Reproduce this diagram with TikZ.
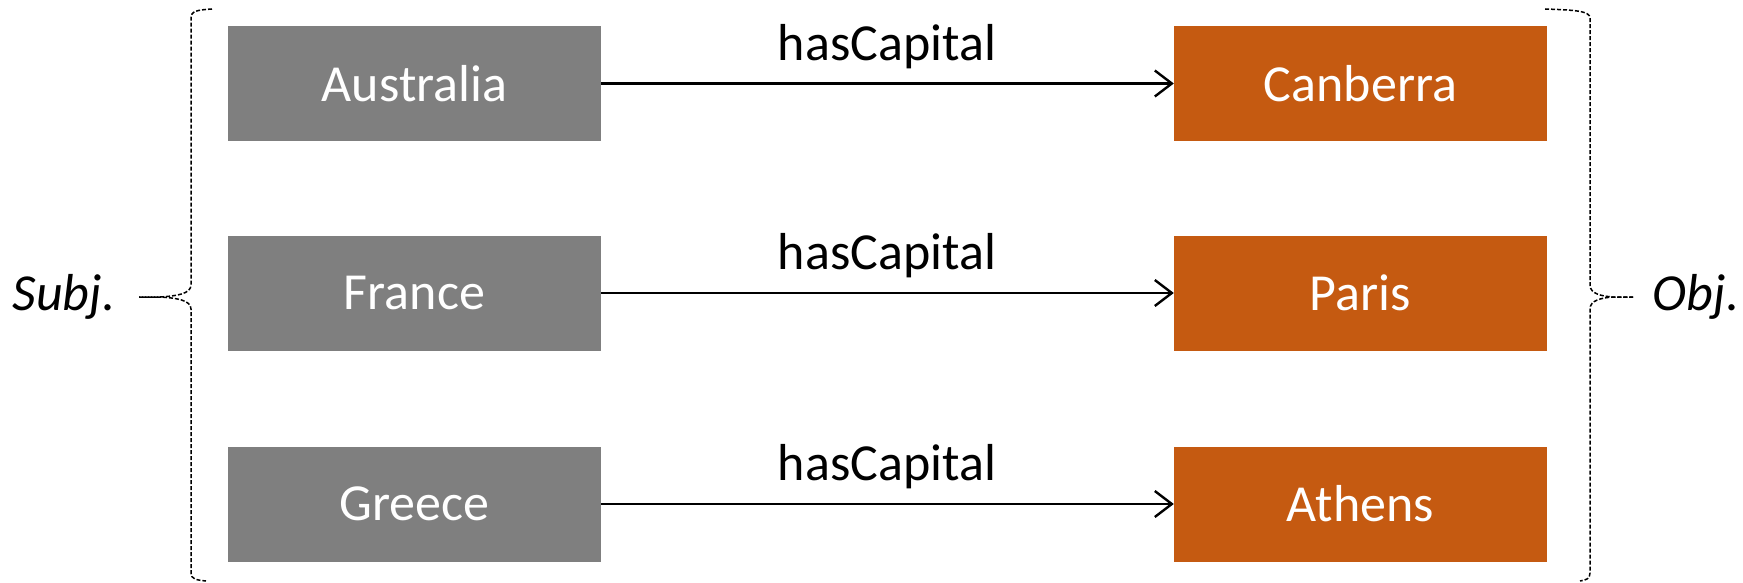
\documentclass[tikz,border=0pt]{standalone}
\usepackage{fontspec}
\setmainfont{Carlito}
\usetikzlibrary{arrows.meta}
\definecolor{subjgray}{HTML}{7F7F7F}
\definecolor{objorange}{HTML}{C55A11}
\begin{document}
\begin{tikzpicture}[x=1pt,y=-1pt,
  bigfont/.style={font=\fontsize{52}{60}\selectfont},
  entity/.style={rectangle, minimum width=373pt, minimum height=115pt, inner sep=0pt, text=white, bigfont},
  subjbox/.style={entity, fill=subjgray},
  objbox/.style={entity, fill=objorange},
  rel/.style={draw=black, line width=2.4pt, -{Straight Barb[length=17pt,width=26pt,line width=2.4pt]}},
  rellabel/.style={bigfont, text=black, inner sep=0pt},
  bracepath/.style={draw=black, line width=1.5pt, dash pattern=on 4pt off 2pt},
  sidelabel/.style={font=\fontsize{52}{60}\selectfont\itshape, inner sep=0pt}]
\useasboundingbox (0,0) rectangle (1743,583);

\node[subjbox] (s1) at (414.5,83.5) {Australia};
\node[subjbox] (s2) at (414.5,293) {France};
\node[subjbox] (s3) at (414.5,504) {Greece};
\node[objbox] (o1) at (1360.5,83.5) {Canberra};
\node[objbox] (o2) at (1360.5,293) {Paris};
\node[objbox] (o3) at (1360.5,504) {Athens};

\draw[rel] (s1) -- (o1);
\draw[rel] (s2) -- (o2);
\draw[rel] (s3) -- (o3);

\node[rellabel] (l1) at (887,47) {hasCapital};
\node[rellabel] (l2) at (887,256) {hasCapital};
\node[rellabel] (l3) at (887,467) {hasCapital};

\node[sidelabel] (subj) at (64,297) {Subj.};
\node[sidelabel] (obj) at (1696,297) {Obj.};

% left brace
\coordinate (lb) at (139,297);
\draw[bracepath] (212,9) .. controls (197,10) and (191,11) .. (191,18) -- (191,285)
  .. controls (191,294) and (176,296) .. (160,297) -- (lb);
\draw[bracepath] (lb) -- (160,297)
  .. controls (176,298) and (191,300) .. (191,309) -- (191,573)
  .. controls (191,579) and (196,580) .. (206,581);
% right brace
\coordinate (rb) at (1633,297);
\draw[bracepath] (1545,9) .. controls (1575,10) and (1590,11) .. (1590,18) -- (1590,285)
  .. controls (1590,294) and (1602,296) .. (1612,297) -- (rb);
\draw[bracepath] (rb) -- (1612,297)
  .. controls (1602,298) and (1590,300) .. (1590,309) -- (1590,573)
  .. controls (1590,579) and (1586,580) .. (1580,581);
\end{tikzpicture}
\end{document}
